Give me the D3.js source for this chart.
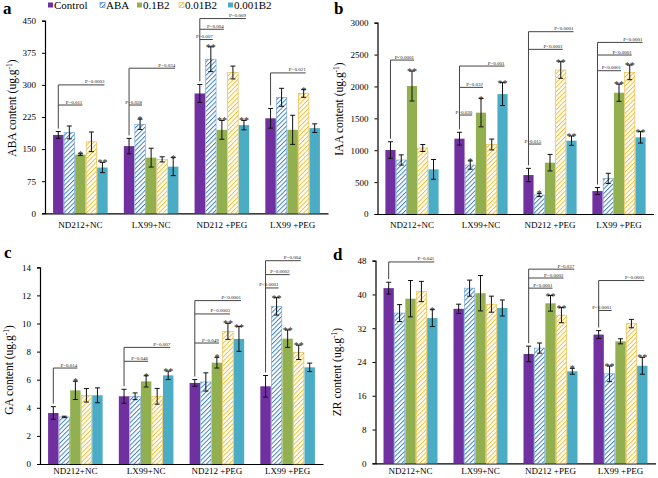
<!DOCTYPE html>
<html><head><meta charset="utf-8">
<script src="https://cdn.jsdelivr.net/npm/d3@7"></script>
<style>
html,body{margin:0;padding:0;background:#fff;}
svg{display:block;}
svg text{font-family:"Liberation Serif","Times New Roman",serif !important;}
</style></head>
<body><svg id="c" width="658" height="478"></svg>
<script>
const groups = ["ND212+NC","LX99+NC","ND212 +PEG","LX99 +PEG"];
const series = ["Control","ABA","0.1B2","0.01B2","0.001B2"];

// ABA content (rows = groups, cols = series)
const abaMean = [[183,189,137,167,107],[157,208,130,126,109],[280,360,195,329,206],[222,271,195,280,199]];
const abaErr  = [[8,15,2,23,12],[18,12,22,6,21],[21,29,22,15,11],[23,21,34,9,10]];
const abaTicks = [0,75,150,225,300,375,450];

// IAA content
const iaaMean = [[1003,847,2007,1035,700],[1181,768,1589,1090,1881],[611,298,805,2258,1150],[360,559,1902,2221,1202]];
const iaaErr  = [[130,80,235,55,155],[100,65,222,85,180],[105,25,130,130,73],[55,80,135,115,90]];
const iaaTicks = [0,500,1000,1500,2000,2500,3000];

// GA content
const gaMean = [[3.63,3.35,5.24,4.89,4.89],[4.82,4.82,5.88,4.82,6.31],[5.77,5.84,7.21,9.44,8.9],[5.53,11.22,8.92,7.95,6.88]];
const gaErr  = [[0.45,0.05,0.65,0.48,0.53],[0.5,0.24,0.4,0.56,0.3],[0.24,0.65,0.38,0.57,0.88],[0.77,0.62,0.62,0.51,0.3]];
const gaTicks = [0,2,4,6,8,10,12,14];

// ZR content
const zrMean = [[41.5,35.6,39.0,40.7,34.4],[36.6,41.5,40.3,37.7,36.8],[25.9,27.3,37.9,35.1,21.8],[30.5,21.2,28.9,33.1,23.1]];
const zrErr  = [[1.4,2.0,4.3,2.4,2.0],[1.1,1.9,4.2,1.9,1.9],[1.85,1.2,1.85,1.8,0.7],[0.95,1.85,0.6,1.0,2.0]];
const zrTicks = [0,8,16,24,32,40,48];

// significance brackets: [group, target series, level (data units), label]
const abaP = [[0,2,253,"P=0.011"],[0,4,300,"P=0.0003"],[1,1,253,"P=0.028"],[1,4,339,"P=0.034"],
  [2,1,406,"P=0.007"],[2,2,430,"P=0.004"],[2,4,455,"P=0.009"],[3,3,328,"P=0.021"]];
const iaaP = [[0,2,2414,"P<0.0001"],[1,1,1552,"P=0.030"],[1,2,1986,"P=0.032"],[1,4,2320,"P=0.001"],
  [2,1,1097,"P=0.015"],[2,3,2582,"P<0.0001"],[2,4,2859,"P<0.0001"],
  [3,2,2247,"P<0.0001"],[3,3,2493,"P<0.0001"],[3,4,2691,"P<0.0001"]];
const gaP = [[0,2,6.83,"P=0.014"],[1,2,7.31,"P=0.046"],[1,4,8.3,"P=0.007"],
  [2,2,8.61,"P=0.049"],[2,3,10.68,"P=0.0003"],[2,4,11.63,"P<0.0001"],
  [3,1,12.53,"P<0.0001"],[3,2,13.48,"P=0.0002"],[3,3,14.47,"P=0.004"]];
const zrP = [[0,4,47.7,"P=0.041"],[2,2,41.5,"P<0.0001"],[2,3,43.9,"P=0.0002"],[2,4,46.0,"P=0.037"],
  [3,1,36.2,"P<0.0001"],[3,4,43.3,"P=0.0005"]];

// asterisks: [group, series, mark]
const abaStar = [[0,2,"*"],[0,4,"**"],[1,1,"*"],[1,4,"*"],[2,1,"**"],[2,2,"**"],[2,4,"**"],[3,3,"*"]];
const iaaStar = [[0,2,"**"],[1,1,"*"],[1,2,"*"],[1,4,"**"],[2,1,"*"],[2,3,"**"],[2,4,"**"],[3,2,"**"],[3,3,"**"],[3,4,"**"]];
const gaStar = [[0,2,"*"],[1,2,"*"],[1,4,"**"],[2,2,"*"],[2,3,"**"],[2,4,"**"],[3,1,"**"],[3,2,"**"],[3,3,"**"]];
const zrStar = [[0,4,"*"],[2,2,"**"],[2,3,"**"],[2,4,"*"],[3,1,"**"],[3,4,"**"]];

const FONT = "Liberation Serif, Times New Roman, serif";
const svg = d3.select("#c");
const defs = svg.append("defs");
function hatch(id, color){
  const p = defs.append("pattern").attr("id",id).attr("patternUnits","userSpaceOnUse")
    .attr("width",3.2).attr("height",3.2).attr("patternTransform","rotate(45)");
  p.append("rect").attr("width",3.2).attr("height",3.2).attr("fill","#fff");
  p.append("line").attr("x1",0).attr("y1",0).attr("x2",0).attr("y2",3.2)
    .attr("stroke",color).attr("stroke-width",1.9);
}
hatch("hBlue","#3a7cc4");
hatch("hYel","#f2bd2c");
const fills = ["#7030a0","url(#hBlue)","#92b050","url(#hYel)","#4bacc6"];
const strokes = ["none","#6a9fd6","none","#e8b53a","none"];

function panel(o){
  const g = svg.append("g").attr("font-family",FONT);
  const x0 = d3.scaleBand().domain(groups).range([o.x0,o.x1]).paddingInner(0.22).paddingOuter(0.11);
  const x1 = d3.scaleBand().domain(series).range([0,x0.bandwidth()]);
  const y = d3.scaleLinear().domain([0,o.ticks[o.ticks.length-1]]).range([o.yb,o.yt]);
  const bx = (gi,si)=> x0(groups[gi]) + x1(series[si]);
  const cx = (gi,si)=> bx(gi,si) + x1.bandwidth()/2;

  // axes
  const ya = g.append("g").attr("transform",`translate(${o.x0},0)`)
    .call(d3.axisLeft(y).tickValues(o.ticks).tickSize(3).tickPadding(6).tickFormat(d3.format("d")));
  ya.attr("font-family",FONT);
  ya.select(".domain").attr("stroke","#000").attr("stroke-width",1.2);
  ya.selectAll(".tick line").attr("stroke","#000");
  ya.selectAll("text").attr("font-family",FONT).attr("font-size",9).attr("fill","#000");
  const xa = g.append("g").attr("transform",`translate(0,${o.yb})`)
    .call(d3.axisBottom(x0).tickSize(0).tickPadding(o.xpad));
  xa.attr("font-family",FONT);
  xa.select(".domain").attr("stroke","#000").attr("stroke-width",1.2);
  xa.selectAll("text").attr("font-family",FONT).attr("font-size",9).attr("fill","#000");

  // bars
  o.mean.forEach((row,gi)=>row.forEach((v,si)=>{
    g.append("rect").attr("x",bx(gi,si)+0.3).attr("width",x1.bandwidth()-0.6)
      .attr("y",y(v)).attr("height",o.yb-y(v))
      .attr("fill",fills[si]).attr("stroke",strokes[si]).attr("stroke-width",0.6);
  }));
  // error bars
  o.mean.forEach((row,gi)=>row.forEach((v,si)=>{
    const e = o.err[gi][si], c = cx(gi,si);
    const t = y(v+e), b = y(v-e);
    g.append("line").attr("x1",c).attr("x2",c).attr("y1",t).attr("y2",b).attr("stroke","#111").attr("stroke-width",1);
    [t,b].forEach(yy=>g.append("line").attr("x1",c-2.5).attr("x2",c+2.5).attr("y1",yy).attr("y2",yy)
      .attr("stroke","#111").attr("stroke-width",1));
  }));
  // brackets
  const byG = d3.group(o.p, d=>d[0]);
  byG.forEach((list,gi)=>{
    const c = cx(gi,0);
    const top = d3.max(list,d=>d[2]);
    const start = y(o.mean[gi][0]+o.err[gi][0]) - 3;
    g.append("line").attr("x1",c).attr("x2",c).attr("y1",start).attr("y2",y(top))
      .attr("stroke","#444").attr("stroke-width",1);
    list.forEach(d=>{
      const xe = cx(gi,d[1]) + 2;
      g.append("line").attr("x1",c).attr("x2",xe).attr("y1",y(d[2])).attr("y2",y(d[2]))
        .attr("stroke","#444").attr("stroke-width",1);
      g.append("text").attr("x",xe).attr("y",y(d[2])-1.5).attr("text-anchor","end")
        .attr("font-size",5).attr("fill","#222").text(d[3]);
    });
  });
  // asterisks
  o.star.forEach(d=>{
    const v = o.mean[d[0]][d[1]] + o.err[d[0]][d[1]];
    g.append("text").attr("x",cx(d[0],d[1])).attr("y",y(v)+4).attr("text-anchor","middle")
      .attr("font-size",10).attr("fill","#222").text(d[2]);
  });
  // y label
  const yl = g.append("text").attr("transform",`translate(${o.lx},${o.ly}) rotate(-90)`)
    .attr("text-anchor","middle").attr("font-size",11.5).attr("fill","#000");
  yl.append("tspan").text(o.label+" content (ug.g");
  yl.append("tspan").attr("baseline-shift","super").attr("font-size",7.5).text("-1");
  yl.append("tspan").text(")");
  // panel letter
  g.append("text").attr("x",o.tx).attr("y",o.ty).attr("font-size",17).attr("font-weight","bold").text(o.letter);
}

panel({letter:"a",label:"ABA",mean:abaMean,err:abaErr,ticks:abaTicks,p:abaP,star:abaStar,
  x0:45,x1:328,yb:213.3,yt:20.7,lx:16,ly:108,tx:3,ty:14,xpad:8});
panel({letter:"b",label:"IAA",mean:iaaMean,err:iaaErr,ticks:iaaTicks,p:iaaP,star:iaaStar,
  x0:377.5,x1:653.5,yb:214,yt:22.7,lx:343,ly:109,tx:334,ty:14,xpad:8});
panel({letter:"c",label:"GA",mean:gaMean,err:gaErr,ticks:gaTicks,p:gaP,star:gaStar,
  x0:40,x1:323,yb:464,yt:267.3,lx:13,ly:370,tx:4,ty:258,xpad:4});
panel({letter:"d",label:"ZR",mean:zrMean,err:zrErr,ticks:zrTicks,p:zrP,star:zrStar,
  x0:375.5,x1:655.5,yb:463.3,yt:260.7,lx:341,ly:372,tx:333,ty:260,xpad:4});

// legend
const lg = svg.append("g").attr("font-family",FONT);
const lx = [48,100,137,179,228];
series.forEach((s,i)=>{
  lg.append("rect").attr("x",lx[i]).attr("y",2.5).attr("width",5).attr("height",5)
    .attr("fill",fills[i]).attr("stroke",i===1?"#3a7cc4":(i===3?"#e8b53a":"none")).attr("stroke-width",0.6);
  lg.append("text").attr("x",lx[i]+6).attr("y",9).attr("font-size",11).attr("fill","#000").text(s);
});
</script></body></html>
